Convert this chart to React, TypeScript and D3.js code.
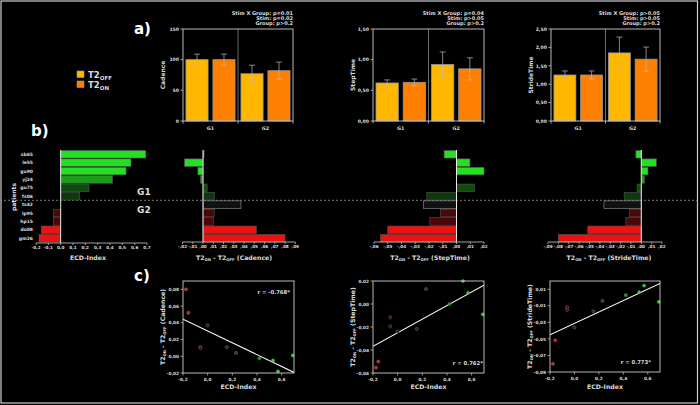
import React from "react";
import * as d3 from "d3";

// ---------- data ----------
const groups = ["G1", "G2"];
const conditions = ["off", "on"];

const cadenceOff = [100, 77];
const cadenceOn = [100, 82];
const cadenceOffErr = [9, 14];
const cadenceOnErr = [9, 14];

const stepOff = [0.62, 0.92];
const stepOn = [0.63, 0.85];
const stepOffErr = [0.05, 0.205];
const stepOnErr = [0.055, 0.18];

const strideOff = [1.25, 1.85];
const strideOn = [1.25, 1.68];
const strideOffErr = [0.11, 0.43];
const strideOnErr = [0.11, 0.33];

const cadenceStats = ["Stim X Group: p=0.01", "Stim: p=0.02", "Group: p>0.2"];
const stepStats = ["Stim X Group: p=0.04", "Stim: p>0.05", "Group: p>0.2"];
const strideStats = ["Stim X Group: p>0.05", "Stim: p>0.05", "Group: p>0.2"];

const patients = ["sb65", "le55", "gu90", "yj24", "gu75", "fs06", "ts42", "lp95", "hp15", "do08", "gm26"];
const ecdIndex = [0.69, 0.57, 0.53, 0.42, 0.23, 0.155, 0, -0.06, -0.06, -0.157, -0.176];
const diffCadence = [0.001, -0.018, -0.005, -0.0025, 0.004, 0.011, 0.037, 0.011, 0.010, 0.052, 0.080];
const diffStep = [-0.009, 0.0098, 0.020, 0, 0.013, -0.0216, -0.024, -0.0115, -0.0194, -0.050, -0.0553];
const diffStride = [-0.0052, 0.0145, 0.0065, 0.003, -0.004, -0.0165, -0.036, -0.0116, -0.0148, -0.0516, -0.080];
const patientColors = ["#22e022", "#22e022", "#22e022", "#1a9e1a", "#0f4a0f", "#0c3a0c", "#111111", "#4a0707", "#4a0707", "#ee1111", "#ee1111"];

const rLabels = ["r = -0.768*", "r = 0.762*", "r = 0.773*"];

const ecdTicks = [-0.2, -0.1, 0, 0.1, 0.2, 0.3, 0.4, 0.5, 0.6, 0.7];
const scatterXTicks = [-0.2, 0, 0.2, 0.4, 0.6];

// ---------- helpers ----------
const FONT = "DejaVu Sans";
const TXT = "#dddddd";
const loc = d3.formatLocale({ decimal: ",", thousands: ".", grouping: [3], currency: ["", ""], minus: "-" });
const f0 = loc.format(".0f");
const f1 = loc.format(".1f");
const f2 = loc.format(".2f");
const fSpss = (v: number) => f2(v).replace(/^(-?)0,/, "$1,");

const OFF_COLOR = "#ffb700";
const ON_COLOR = "#ff7f00";

function BarPanel(props: any) {
  const { x0, x1, max, ticks, fmt, off, on, offErr, onErr, ylabel, stats } = props;
  const yTop = 29, yBot = 121;
  const y = d3.scaleLinear().domain([0, max]).range([yBot, yTop]);
  const xg = d3.scaleBand().domain(groups).range([x0, x1]);
  const xc = d3.scaleBand().domain(conditions).range([0, xg.bandwidth()]).paddingInner(0.18).paddingOuter(0.11);
  const series = [
    { key: "off", vals: off, errs: offErr, color: OFF_COLOR },
    { key: "on", vals: on, errs: onErr, color: ON_COLOR },
  ];
  return (
    <g>
      {stats.map((s: string, i: number) => (
        <text key={i} x={x1} y={15 + i * 5.2} textAnchor="end" fontSize={5} fontWeight="bold" fill={TXT} fontFamily={FONT}>{s}</text>
      ))}
      {groups.map((g, gi) =>
        series.map((s) => {
          const bx = (xg(g) as number) + (xc(s.key) as number);
          const bw = xc.bandwidth();
          const cx = bx + bw / 2;
          const v = s.vals[gi], e = s.errs[gi];
          return (
            <g key={g + s.key}>
              <rect x={bx} y={y(v)} width={bw} height={yBot - y(v)} fill={s.color} stroke="#9a9a9a" strokeWidth={0.8} />
              <line x1={cx} x2={cx} y1={y(v - e)} y2={y(v + e)} stroke="#bbbbbb" strokeWidth={0.7} />
              <line x1={cx - 3} x2={cx + 3} y1={y(v - e)} y2={y(v - e)} stroke="#bbbbbb" strokeWidth={0.7} />
              <line x1={cx - 3} x2={cx + 3} y1={y(v + e)} y2={y(v + e)} stroke="#bbbbbb" strokeWidth={0.7} />
            </g>
          );
        })
      )}
      <line x1={xg("G2") as number} x2={xg("G2") as number} y1={yTop} y2={yBot} stroke="#888" strokeWidth={0.8} />
      <rect x={x0} y={yTop} width={x1 - x0} height={yBot - yTop} fill="none" stroke="#cccccc" strokeWidth={0.9} />
      {ticks.map((t: number) => (
        <g key={t}>
          <line x1={x0 - 2.5} x2={x0} y1={y(t)} y2={y(t)} stroke="#ccc" strokeWidth={0.8} />
          <text x={x0 - 4} y={y(t) + 1.7} textAnchor="end" fontSize={4.6} fontWeight="bold" fill={TXT} fontFamily={FONT}>{fmt(t)}</text>
        </g>
      ))}
      {[x0, xg("G2") as number, x1].map((tx, i) => (
        <line key={i} x1={tx} x2={tx} y1={yBot} y2={yBot + 2.5} stroke="#ccc" strokeWidth={0.8} />
      ))}
      {groups.map((g) => (
        <text key={g} x={(xg(g) as number) + xg.bandwidth() / 2} y={130} textAnchor="middle" fontSize={4.8} fontWeight="bold" fill={TXT} fontFamily={FONT}>{g}</text>
      ))}
      <text transform={`translate(${x0 - 18},${(yTop + yBot) / 2}) rotate(-90)`} textAnchor="middle" fontSize={6} fontWeight="bold" fill={TXT} fontFamily={FONT}>{ylabel}</text>
    </g>
  );
}

const rowScale = d3.scaleBand().domain(patients).range([150.5, 242]).paddingInner(0.1);

function DiffPanel(props: any) {
  const { domain, range, ticks, fmt, values, label, axisY, labelX } = props;
  const x = d3.scaleLinear().domain(domain).range(range);
  return (
    <g>
      {patients.map((p, i) => {
        const v = values[i];
        if (v === 0) return null;
        const y0 = rowScale(p) as number;
        const xa = x(Math.min(0, v)), xb = x(Math.max(0, v));
        return (
          <rect key={p} x={xa} y={y0} width={xb - xa} height={rowScale.bandwidth()} fill={patientColors[i]} stroke={p === "ts42" ? "#9a9a9a" : "#555"} strokeWidth={0.6} />
        );
      })}
      <line x1={x(0)} x2={x(0)} y1={150} y2={axisY} stroke="#ffffff" strokeWidth={0.9} />
      <line x1={range[0]} x2={range[1]} y1={axisY} y2={axisY} stroke="#ccc" strokeWidth={0.8} />
      {ticks.map((t: number) => (
        <g key={t}>
          <line x1={x(t)} x2={x(t)} y1={axisY} y2={axisY + 2} stroke="#ccc" strokeWidth={0.7} />
          <text x={x(t)} y={axisY + 6} textAnchor="middle" fontSize={4.2} fontWeight="bold" fill={TXT} fontFamily={FONT}>{fmt(t)}</text>
        </g>
      ))}
      <text x={labelX ?? (range[0] + range[1]) / 2} y={259.5} textAnchor="middle" fontSize={6.2} fontWeight="bold" fill={TXT} fontFamily={FONT}>
        {label}
      </text>
    </g>
  );
}

function diffLabel(name: string) {
  return [
    <tspan key="a">T2</tspan>,
    <tspan key="b" fontSize={3.8} dy={1.3}>ON</tspan>,
    <tspan key="c" dy={-1.3}> - T2</tspan>,
    <tspan key="d" fontSize={3.8} dy={1.3}>OFF</tspan>,
    <tspan key="e" dy={-1.3}>{` (${name})`}</tspan>,
  ];
}

function ScatterPanel(props: any) {
  const { x0, x1, yTop, yBot, ydomain, yticks, values, rText, rPos, name } = props;
  const x = d3.scaleLinear().domain([-0.2, 0.7]).range([x0, x1]);
  const y = d3.scaleLinear().domain(ydomain).range([yBot, yTop]);
  const mx = d3.mean(ecdIndex) as number;
  const my = d3.mean(values as number[]) as number;
  let sxy = 0, sxx = 0;
  ecdIndex.forEach((xv, i) => { sxy += (xv - mx) * (values[i] - my); sxx += (xv - mx) * (xv - mx); });
  const slope = sxy / sxx;
  const icpt = my - slope * mx;
  const lx0 = -0.2, lx1 = 0.7;
  return (
    <g>
      <defs>
        <clipPath id={`clip-${name}`}>
          <rect x={x0} y={yTop} width={x1 - x0} height={yBot - yTop} />
        </clipPath>
      </defs>
      <line clipPath={`url(#clip-${name})`} x1={x(lx0)} y1={y(icpt + slope * lx0)} x2={x(lx1)} y2={y(icpt + slope * lx1)} stroke="#ffffff" strokeWidth={1.1} />
      {patients.map((p, i) => (
        <circle key={p} cx={x(ecdIndex[i])} cy={y(values[i])} r={1.6} fill={patientColors[i] === "#111111" ? "#222" : patientColors[i]} stroke="#888" strokeWidth={0.4} />
      ))}
      <rect x={x0} y={yTop} width={x1 - x0} height={yBot - yTop} fill="none" stroke="#cccccc" strokeWidth={0.9} />
      {yticks.map((t: number) => (
        <g key={t}>
          <line x1={x0 - 2.5} x2={x0} y1={y(t)} y2={y(t)} stroke="#ccc" strokeWidth={0.7} />
          <text x={x0 - 4} y={y(t) + 1.6} textAnchor="end" fontSize={4.3} fontWeight="bold" fill={TXT} fontFamily={FONT}>{f2(t)}</text>
        </g>
      ))}
      {scatterXTicks.map((t) => (
        <g key={t}>
          <line x1={x(t)} x2={x(t)} y1={yBot} y2={yBot + 2.5} stroke="#ccc" strokeWidth={0.7} />
          <text x={x(t)} y={yBot + 7.5} textAnchor="middle" fontSize={4.3} fontWeight="bold" fill={TXT} fontFamily={FONT}>{f1(t)}</text>
        </g>
      ))}
      <text x={(x0 + x1) / 2} y={389} textAnchor="middle" fontSize={6.2} fontWeight="bold" fill={TXT} fontFamily={FONT}>ECD-Index</text>
      <text transform={`translate(${x0 - 18},${(yTop + yBot) / 2}) rotate(-90)`} textAnchor="middle" fontSize={6.2} fontWeight="bold" fill={TXT} fontFamily={FONT}>
        {diffLabel(name)}
      </text>
      <text x={rPos[0]} y={rPos[1]} textAnchor="end" fontSize={5.3} fontWeight="bold" fill={TXT} fontFamily={FONT}>{rText}</text>
    </g>
  );
}

export default function App() {
  return (
    <svg width={700} height={405} style={{ position: "absolute", left: 0, top: 0 }} fontFamily={FONT}>
      <rect x={0} y={0} width={700} height={405} fill="#000" />
      <rect x={1} y={1} width={696.5} height={402} fill="none" stroke="#cfcfcf" strokeWidth={1.2} />

      {/* section letters */}
      <text x={134} y={34} fontSize={15} fontWeight="bold" fill="#fff" fontFamily={FONT}>a)</text>
      <text x={31} y={136} fontSize={15} fontWeight="bold" fill="#fff" fontFamily={FONT}>b)</text>
      <text x={134} y={281} fontSize={15} fontWeight="bold" fill="#fff" fontFamily={FONT}>c)</text>

      {/* legend */}
      <rect x={77} y={71} width={7} height={6.5} fill={OFF_COLOR} stroke="#999" strokeWidth={0.6} />
      <rect x={77} y={81} width={7} height={6.5} fill={ON_COLOR} stroke="#999" strokeWidth={0.6} />
      <text x={88} y={77.5} fontSize={8.5} fontWeight="bold" fill={TXT} fontFamily={FONT}>T2<tspan fontSize={5.5} dy={2}>OFF</tspan></text>
      <text x={88} y={87.5} fontSize={8.5} fontWeight="bold" fill={TXT} fontFamily={FONT}>T2<tspan fontSize={5.5} dy={2}>ON</tspan></text>

      {/* a) bars */}
      <BarPanel x0={183} x1={293} max={150} ticks={[0, 50, 100, 150]} fmt={f0} off={cadenceOff} on={cadenceOn} offErr={cadenceOffErr} onErr={cadenceOnErr} ylabel="Cadence" stats={cadenceStats} />
      <BarPanel x0={373} x1={484} max={1.5} ticks={[0, 0.5, 1, 1.5]} fmt={f2} off={stepOff} on={stepOn} offErr={stepOffErr} onErr={stepOnErr} ylabel="StepTime" stats={stepStats} />
      <BarPanel x0={551} x1={660} max={2.5} ticks={[0, 0.5, 1, 1.5, 2, 2.5]} fmt={f2} off={strideOff} on={strideOn} offErr={strideOffErr} onErr={strideOnErr} ylabel="StrideTime" stats={strideStats} />

      {/* b) diverging bars */}
      <line x1={0} x2={700} y1={200.3} y2={200.3} stroke="#9a9a9a" strokeWidth={0.8} strokeDasharray="2,2" />
      <DiffPanel domain={[-0.2, 0.7]} range={[36, 147]} ticks={ecdTicks} fmt={f1} values={ecdIndex} label="ECD-Index" axisY={243} labelX={88} />
      {patients.map((p) => (
        <text key={p} x={33} y={(rowScale(p) as number) + rowScale.bandwidth() / 2 + 1.6} textAnchor="end" fontSize={4.5} fontWeight="bold" fill={TXT} fontFamily={FONT}>{p}</text>
      ))}
      <text transform="translate(16,197) rotate(-90)" textAnchor="middle" fontSize={6} fontWeight="bold" fill={TXT} fontFamily={FONT}>patients</text>
      <text x={137} y={195} fontSize={9} fontWeight="bold" fill={TXT} fontFamily={FONT}>G1</text>
      <text x={137} y={213} fontSize={9} fontWeight="bold" fill={TXT} fontFamily={FONT}>G2</text>

      <DiffPanel domain={[-0.02, 0.09]} range={[182.5, 295.3]} ticks={d3.range(-2, 10).map((v) => v / 100)} fmt={fSpss} values={diffCadence} label={diffLabel("Cadence")} axisY={242} labelX={234} />
      <DiffPanel domain={[-0.06, 0.02]} range={[374, 484]} ticks={d3.range(-6, 3).map((v) => v / 100)} fmt={fSpss} values={diffStep} label={diffLabel("StepTime")} axisY={242} labelX={430} />
      <DiffPanel domain={[-0.09, 0.02]} range={[548, 662]} ticks={d3.range(-9, 3).map((v) => v / 100)} fmt={fSpss} values={diffStride} label={diffLabel("StrideTime")} axisY={242} labelX={609} />

      {/* c) scatter */}
      <ScatterPanel name="Cadence" x0={183} x1={294} yTop={281} yBot={373} ydomain={[-0.02, 0.09]} yticks={[-0.02, 0, 0.02, 0.04, 0.06, 0.08]} values={diffCadence} rText={rLabels[0]} rPos={[290, 294]} />
      <ScatterPanel name="StepTime" x0={373} x1={484} yTop={281} yBot={373} ydomain={[-0.06, 0.02]} yticks={[-0.06, -0.04, -0.02, 0, 0.02]} values={diffStep} rText={rLabels[1]} rPos={[483, 365]} />
      <ScatterPanel name="StrideTime" x0={550} x1={660} yTop={281} yBot={372} ydomain={[-0.09, 0.02]} yticks={[-0.09, -0.07, -0.05, -0.03, -0.01, 0.01]} values={diffStride} rText={rLabels[2]} rPos={[651, 364]} />
    </svg>
  );
}
